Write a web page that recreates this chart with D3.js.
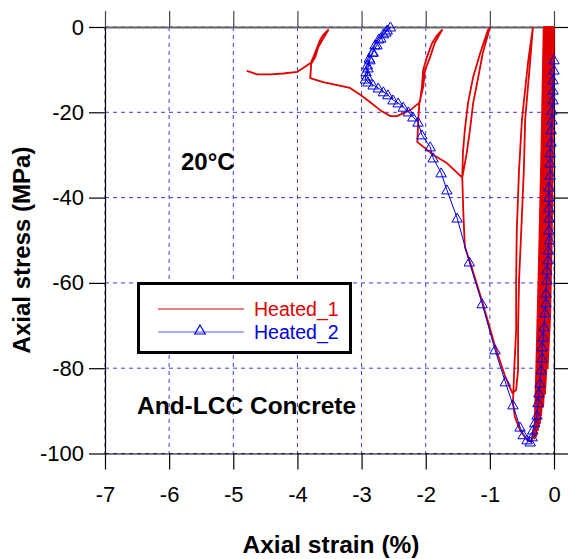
<!DOCTYPE html>
<html lang="en">
<head>
<meta charset="utf-8">
<title>Axial stress-strain, And-LCC Concrete</title>
<script src="https://d3js.org/d3.v7.min.js"></script>
<style>
  body { margin: 0; background: #fff; }
  svg { font-family: "Liberation Sans", Arial, sans-serif; }
</style>
</head>
<body>
<script>
// ---- data (strain %, stress MPa) ----
var xTicks = [-7, -6, -5, -4, -3, -2, -1, 0];
var yTicks = [0, -20, -40, -60, -80, -100];
var seriesNames = ["Heated_1", "Heated_2"];

var heated1 = [
  [0,0],[-0.01,-15],[-0.02,-30],[-0.035,-50],[-0.06,-68],[-0.10,-80],
  [-0.085,-65],[-0.06,-40],[-0.04,-20],[-0.025,-5],[-0.02,0],
  [-0.03,-20],[-0.045,-40],[-0.07,-60],[-0.10,-75],[-0.14,-86],
  [-0.12,-70],[-0.095,-45],[-0.07,-22],[-0.05,-6],[-0.04,0],
  [-0.05,-20],[-0.07,-40],[-0.09,-60],[-0.12,-76],[-0.17,-89],
  [-0.15,-72],[-0.12,-47],[-0.09,-24],[-0.07,-6],[-0.06,0],
  [-0.07,-20],[-0.09,-40],[-0.115,-60],[-0.145,-77],[-0.20,-91],
  [-0.18,-74],[-0.15,-48],[-0.115,-24],[-0.09,-6],[-0.08,0],
  [-0.09,-20],[-0.11,-40],[-0.14,-60],[-0.17,-78],[-0.22,-93],
  [-0.20,-76],[-0.17,-50],[-0.135,-25],[-0.11,-6],[-0.10,0],
  [-0.11,-20],[-0.135,-40],[-0.16,-60],[-0.19,-79],[-0.25,-94.5],
  [-0.225,-78],[-0.19,-52],[-0.155,-26],[-0.13,-6],[-0.12,0],
  [-0.13,-20],[-0.155,-40],[-0.18,-60],[-0.21,-80],[-0.28,-96],
  [-0.25,-80],[-0.21,-53],[-0.175,-27],[-0.15,-7],[-0.14,0],
  [-0.15,-20],[-0.175,-40],[-0.20,-60],[-0.23,-81],[-0.31,-96.5],
  [-0.28,-82],[-0.235,-55],[-0.195,-28],[-0.17,-7],[-0.16,0],
  [-0.17,-20],[-0.195,-40],[-0.215,-60],[-0.25,-82],[-0.30,-93],[-0.35,-97.3],
  [-0.42,-96.8],[-0.53,-94.5],[-0.61,-91.4],[-0.64,-88.1],
  [-0.62,-80.4],[-0.59,-71.0],[-0.59,-59.3],[-0.58,-47.6],[-0.545,-33.5],[-0.50,-21.8],[-0.40,-7.7],[-0.33,-0.2],
  [-0.37,-7.7],[-0.45,-21.8],[-0.47,-33.5],[-0.51,-47.6],[-0.545,-59.3],[-0.56,-71.0],[-0.56,-80.4],[-0.59,-85.1],[-0.65,-85.8],
  [-0.76,-82],[-0.92,-74.8],[-1.12,-64.3],[-1.32,-54.6],[-1.39,-51.6],
  [-1.415,-43],[-1.43,-35.3],
  [-1.36,-29.5],[-1.31,-24.1],[-1.26,-17.8],[-1.18,-11.7],[-1.11,-6.1],[-1.0,-0.2],
  [-1.03,-0.7],[-1.15,-6.1],[-1.26,-11.7],[-1.34,-17.8],[-1.39,-24.1],[-1.42,-29.5],[-1.43,-35.3],
  [-1.67,-31.9],[-1.88,-30],[-2.01,-28.4],[-2.13,-27],
  [-2.12,-23],[-2.10,-17.8],
  [-2.04,-14.1],[-2.01,-10.1],[-1.93,-7.0],[-1.86,-3.75],[-1.79,-1.9],[-1.745,-0.7],
  [-1.82,-1.9],[-1.90,-3.75],[-1.98,-7.0],[-2.04,-10.1],[-2.06,-14.1],[-2.09,-17.6],
  [-2.24,-19.5],[-2.45,-20.9],[-2.55,-20.9],[-2.71,-19.5],[-2.87,-17.6],[-3.02,-15.9],
  [-3.18,-14.3],[-3.38,-13.6],[-3.6,-12.9],[-3.8,-12.0],
  [-3.785,-8.6],
  [-3.72,-7.0],[-3.675,-4.7],[-3.61,-3.0],[-3.565,-1.9],[-3.52,-0.7],
  [-3.6,-1.9],[-3.645,-3.0],[-3.69,-4.7],[-3.75,-7.0],[-3.79,-8.4],
  [-4.0,-10.5],[-4.22,-10.9],[-4.42,-11.1],[-4.63,-11.1],[-4.74,-10.5],[-4.79,-10.3]
];

var heated2 = [
  [0,-7.7],[0,-10.1],[-0.015,-12.4],[-0.015,-14.8],[-0.015,-17.1],[-0.03,-19.5],
  [-0.03,-21.8],[-0.045,-24.1],[-0.045,-27.0],[-0.06,-29.5],[-0.06,-31.9],[-0.06,-34.7],
  [-0.08,-37.5],[-0.08,-39.9],[-0.08,-42.4],[-0.08,-44.8],[-0.08,-47.6],[-0.07,-49.9],
  [-0.09,-52.3],[-0.09,-54.6],[-0.11,-57.0],[-0.11,-59.3],[-0.125,-62.4],[-0.125,-64.7],
  [-0.14,-67.0],[-0.155,-70.3],[-0.17,-72.7],[-0.185,-75.0],[-0.185,-77.6],[-0.2,-80.4],
  [-0.22,-83.5],[-0.235,-85.8],[-0.25,-88.1],[-0.265,-91.0],[-0.3,-92.8],[-0.33,-94.5],
  [-0.34,-96.1],[-0.37,-97.3],[-0.42,-96.8],[-0.48,-95.6],[-0.53,-93.8],[-0.64,-88.6],
  [-0.76,-83.2],[-0.92,-75.7],[-1.12,-64.9],[-1.32,-55.1],[-1.51,-44.8],[-1.67,-38.2],
  [-1.76,-34.2],[-1.885,-30.7],[-1.93,-28.1],[-2.06,-25.3],[-2.12,-22.3],[-2.2,-21.1],
  [-2.27,-19.9],[-2.35,-18.8],[-2.43,-17.8],[-2.51,-17.1],[-2.59,-15.9],[-2.66,-15.2],
  [-2.74,-14.3],[-2.82,-13.6],[-2.9,-12.9],[-2.94,-12.2],
  [-2.93,-10.5],[-2.91,-8.9],[-2.88,-7.3],[-2.83,-5.9],[-2.79,-4.2],[-2.73,-2.8],
  [-2.66,-1.6],[-2.6,-0.7],[-2.55,0],
  [-2.62,-1.2],[-2.7,-2.6],[-2.76,-4.2],[-2.82,-5.9],[-2.87,-7.7],[-2.9,-9.6],[-2.91,-11.5]
];

var redColor = "#e00000";
var blueColor = "#0000e6";
var gridColor = "#3a3aee";

var svgWidth = 568, svgHeight = 559;
var margin = { top: 27, right: 14, bottom: 105, left: 105 };
var width = 554 - margin.left;
var height = 453.5 - margin.top;

var svg = d3.select("body").append("svg")
  .attr("width", svgWidth)
  .attr("height", svgHeight);

var g = svg.append("g")
  .attr("transform", "translate(" + margin.left + "," + margin.top + ")");

var x = d3.scaleLinear().domain([-7, 0]).range([0, width]);
var y = d3.scaleLinear().domain([0, -100]).range([0, height]);

// plain hyphen minus, integers only
var fmt = function (d) { return String(d); };

// grid
var grid = g.append("g").attr("class", "grid");
grid.selectAll("line.gx")
  .data(xTicks)
  .join("line")
  .attr("class", "gx")
  .attr("x1", function (d) { return x(d); })
  .attr("x2", function (d) { return x(d); })
  .attr("y1", 0).attr("y2", height);

grid.selectAll("line.gy")
  .data(yTicks)
  .join("line")
  .attr("class", "gy")
  .attr("x1", 0).attr("x2", width)
  .attr("y1", function (d) { return y(d); })
  .attr("y2", function (d) { return y(d); });

grid.selectAll("line")
  .attr("stroke", gridColor)
  .attr("stroke-width", 1)
  .attr("stroke-dasharray", "4,4");

// axes (frame with outward ticks)
var tick = 16;
var axBottom = g.append("g")
  .attr("transform", "translate(0," + height + ")")
  .call(d3.axisBottom(x).tickValues(xTicks).tickSize(tick).tickSizeOuter(0).tickPadding(17).tickFormat(fmt));
var axTop = g.append("g")
  .call(d3.axisTop(x).tickValues(xTicks).tickSize(tick).tickSizeOuter(0).tickFormat(""));
var axLeft = g.append("g")
  .call(d3.axisLeft(y).tickValues(yTicks).tickSize(tick).tickSizeOuter(0).tickPadding(5).tickFormat(fmt));
var axRight = g.append("g")
  .attr("transform", "translate(" + width + ",0)")
  .call(d3.axisRight(y).tickValues(yTicks).tickSize(tick).tickSizeOuter(0).tickFormat(""));

[axBottom, axTop, axLeft, axRight].forEach(function (a) {
  a.selectAll("text")
    .attr("font-family", "Liberation Sans, Arial, sans-serif")
    .attr("font-size", 22)
    .attr("fill", "#000");
  a.selectAll("line").attr("stroke", "#000").attr("stroke-width", 1.2);
  a.select(".domain").attr("stroke", "#000").attr("stroke-width", 1.2);
});
axTop.select(".domain").attr("stroke", "#666").attr("stroke-width", 2);
axTop.selectAll("line").attr("stroke", "#444");

// curves
var line = d3.line()
  .x(function (d) { return x(d[0]); })
  .y(function (d) { return y(d[1]); });

g.append("path")
  .datum(heated1)
  .attr("fill", "none")
  .attr("stroke", redColor)
  .attr("stroke-width", 1.8)
  .attr("stroke-linejoin", "round")
  .attr("d", line);

g.append("path")
  .datum(heated2)
  .attr("fill", "none")
  .attr("stroke", blueColor)
  .attr("stroke-width", 1)
  .attr("d", line);

var tri = "M0,-5L5.2,4L-5.2,4Z";
g.selectAll("path.tri")
  .data(heated2)
  .join("path")
  .attr("class", "tri")
  .attr("d", tri)
  .attr("transform", function (d) { return "translate(" + x(d[0]) + "," + y(d[1]) + ")"; })
  .attr("fill", "none")
  .attr("stroke", blueColor)
  .attr("stroke-width", 1);

// axis titles
svg.append("text")
  .attr("x", 331).attr("y", 553)
  .attr("text-anchor", "middle")
  .attr("font-size", 24.5).attr("font-weight", "bold")
  .text("Axial strain (%)");

svg.append("text")
  .attr("transform", "translate(30,250) rotate(-90)")
  .attr("text-anchor", "middle")
  .attr("font-size", 24).attr("font-weight", "bold")
  .text("Axial stress (MPa)");

// annotations
svg.append("text")
  .attr("x", 181).attr("y", 170)
  .attr("font-size", 24).attr("font-weight", "bold")
  .text("20°C");

svg.append("text")
  .attr("x", 137).attr("y", 414)
  .attr("font-size", 24.5).attr("font-weight", "bold")
  .text("And-LCC Concrete");

// legend
var lg = svg.append("g");
lg.append("rect")
  .attr("x", 138.5).attr("y", 283.5)
  .attr("width", 212).attr("height", 69)
  .attr("fill", "#fff")
  .attr("stroke", "#000")
  .attr("stroke-width", 3);

lg.append("line")
  .attr("x1", 158).attr("x2", 244).attr("y1", 309).attr("y2", 309)
  .attr("stroke", redColor).attr("stroke-width", 1.2);
lg.append("line")
  .attr("x1", 158).attr("x2", 244).attr("y1", 332).attr("y2", 332)
  .attr("stroke", "#5a5aff").attr("stroke-width", 1.2);
lg.append("path")
  .attr("d", tri)
  .attr("transform", "translate(200,330)")
  .attr("fill", "none").attr("stroke", blueColor).attr("stroke-width", 1.2);

lg.selectAll("text.leg")
  .data(seriesNames)
  .join("text")
  .attr("class", "leg")
  .attr("x", 254)
  .attr("y", function (d, i) { return 316 + i * 23; })
  .attr("font-size", 19.5)
  .attr("fill", function (d, i) { return i === 0 ? redColor : "#0000dd"; })
  .text(function (d) { return d; });
</script>
</body>
</html>
